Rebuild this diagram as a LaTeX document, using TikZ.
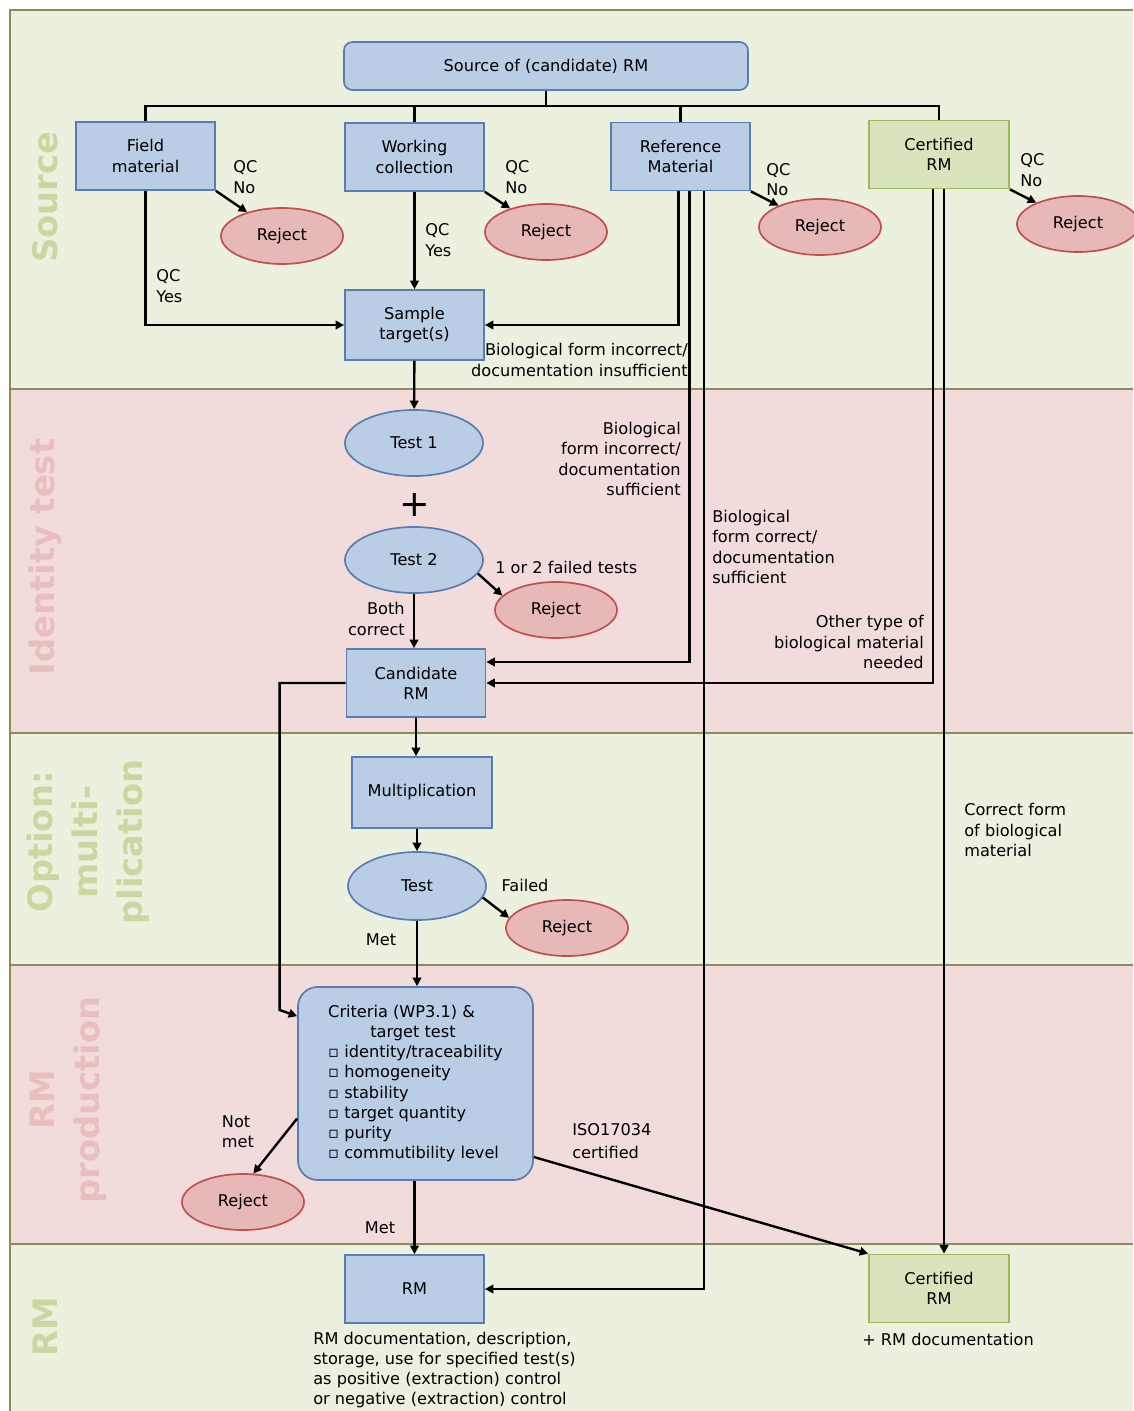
\documentclass[tikz,border=0pt]{standalone}
\usepackage{fontspec}
\setmainfont{DejaVu Sans}
\usetikzlibrary{shapes.geometric,arrows.meta}
\definecolor{bggreen}{RGB}{235,241,222}
\definecolor{bgpink}{RGB}{242,220,219}
\definecolor{bandline}{RGB}{140,140,90}
\definecolor{labgreen}{RGB}{200,216,160}
\definecolor{labpink}{RGB}{232,190,190}
\definecolor{boxblue}{RGB}{185,205,229}
\definecolor{boxline}{RGB}{90,125,175}
\definecolor{gfill}{RGB}{215,228,189}
\definecolor{gline}{RGB}{155,187,89}
\definecolor{rejfill}{RGB}{230,185,184}
\definecolor{rejline}{RGB}{192,80,77}

\begin{document}
\begin{tikzpicture}[x=0.025cm,y=-0.025cm]
\tikzstyle{every node}+=[font=\fontsize{11.5}{14.4}\selectfont]
\tikzstyle{box}=[draw=boxline,fill=boxblue,line width=1.2pt,minimum width=3.475cm,minimum height=1.7cm,align=center]
\tikzstyle{gbox}=[box,draw=gline,fill=gfill,minimum width=3.5cm]
\tikzstyle{testnode}=[ellipse,draw=boxline,fill=boxblue,line width=1.2pt,minimum width=3.45cm,minimum height=1.65cm]
\tikzstyle{reject}=[ellipse,draw=rejline,fill=rejfill,line width=1.2pt,minimum width=3.05cm,minimum height=1.4cm]
\tikzstyle{conn}=[line width=1.7pt]
\tikzstyle{arr}=[conn,-{Triangle[length=6pt,width=6pt]}]
\tikzstyle{lbl}=[inner sep=0pt,align=left]
\tikzstyle{band}=[font=\fontsize{24}{32}\selectfont\bfseries,rotate=90,align=center]
\useasboundingbox (0,0) rectangle (1133,1411);
\fill[white] (0,0) rectangle (1133,1411);
\fill[bggreen] (10,10) rectangle (1133,389);
\fill[bgpink] (10,389) rectangle (1133,733);
\fill[bggreen] (10,733) rectangle (1133,965);
\fill[bgpink] (10,965) rectangle (1133,1244);
\fill[bggreen] (10,1244) rectangle (1133,1411);
\draw[bandline,line width=1.8pt] (1133,10) -- (10,10) -- (10,1411);
\foreach \y in {389,733,965,1244}
  \draw[bandline,line width=1.8pt] (10,\y) -- (1133,\y);

\node[band,text=labgreen] (lsource) at (45,197) {Source};
\node[band,text=labpink] (lident) at (45,557) {Identity test};
\node[band,text=labgreen] (lmult) at (88,842) {Option:\\multi-\\plication};
\node[band,text=labpink] (lprod) at (68,1100) {RM\\production};
\node[band,text=labgreen] (lrm) at (45,1327) {RM};

\node[box,rounded corners=6pt,minimum width=10.1cm,minimum height=1.2cm] (src) at (546,66) {Source of (candidate) RM};
\node[box] (field) at (145.5,156) {Field\\material};
\node[box] (working) at (414.5,157) {Working\\collection};
\node[box] (refmat) at (680.5,156.5) {Reference\\Material};
\node[gbox] (certsrc) at (939,154.5) {Certified\\RM};
\node[reject] (rej1) at (282,236) {Reject};
\node[reject] (rej2) at (546,232) {Reject};
\node[reject] (rej3) at (820,227) {Reject};
\node[reject] (rej4) at (1078,224) {Reject};
\node[box,minimum height=1.75cm] (sample) at (414.5,325) {Sample\\target(s)};
\node[testnode] (test1) at (414,443) {Test 1};
\node[font=\fontsize{26}{26}\selectfont,inner sep=0pt] (plus) at (415,505) {+};
\node[testnode] (test2) at (414,560) {Test 2};
\node[reject] (rej5) at (556,610) {Reject};
\node[box] (cand) at (416,683) {Candidate\\RM};
\node[box,minimum width=3.5cm,minimum height=1.775cm] (mult) at (422,792.5) {Multiplication};
\node[testnode,minimum height=1.7cm] (test) at (417,886) {Test};
\node[reject] (rej6) at (567,928) {Reject};
\node[box,rounded corners=14pt,minimum width=5.875cm,minimum height=4.825cm,align=left] (crit) at (415.5,1083.5) {Criteria (WP3.1) \&\\\hspace*{2.6em}target test\\▫ identity/traceability\\▫ homogeneity\\▫ stability\\▫ target quantity\\▫ purity\\▫ commutibility level};
\node[reject] (rej7) at (243,1202) {Reject};
\node[box] (rm) at (414.5,1289) {RM};
\node[gbox] (certrm) at (939,1288.5) {Certified\\RM};

\node[lbl,anchor=west] (qcno1) at (233,177) {QC\\No};
\node[lbl,anchor=west] (qcno2) at (505,177) {QC\\No};
\node[lbl,anchor=west] (qcno3) at (766,179.5) {QC\\No};
\node[lbl,anchor=west] (qcno4) at (1020,170) {QC\\No};
\node[lbl,anchor=west] (qcyes1) at (156,286) {QC\\Yes};
\node[lbl,anchor=west] (qcyes2) at (425,240) {QC\\Yes};
\node[lbl,align=right,anchor=east] (bioinsuff) at (688,360) {Biological form incorrect/\\documentation insufficient};
\node[lbl,align=right,anchor=east] (bioincorr) at (681,459) {Biological\\form incorrect/\\documentation\\sufficient};
\node[lbl,anchor=west] (biocorr) at (712,547) {Biological\\form correct/\\documentation\\sufficient};
\node[lbl,align=right,anchor=east] (othertype) at (924,642) {Other type of\\biological material\\needed};
\node[lbl,anchor=west] (correctform) at (964,830) {Correct form\\of biological\\material};
\node[lbl,anchor=west] (failedtests) at (495,567) {1 or 2 failed tests};
\node[lbl,align=right,anchor=east] (bothcorr) at (405,619) {Both\\correct};
\node[lbl] (failed) at (525,885) {Failed};
\node[lbl] (met1) at (381,940) {Met};
\node[lbl] (notmet) at (238,1132) {Not\\met};
\node[lbl] (met2) at (380,1228) {Met};
\node[lbl,anchor=west,font=\fontsize{11.5}{16}\selectfont] (iso) at (572,1141) {ISO17034\\certified};
\node[lbl,anchor=west] (rmdoc) at (313,1370) {RM documentation, description,\\storage, use for specified test(s)\\as positive (extraction) control\\or negative (extraction) control};
\node[lbl] (plusdoc) at (948,1339) {+ RM documentation};

\coordinate (bus) at (546,106);
\draw[conn] (src) -- (bus);
\draw[conn] (field.north) |- (bus) -| (certsrc.north);
\draw[conn] (working.north) -- (working.north |- bus);
\draw[conn] (refmat.north) -- (refmat.north |- bus);
\draw[arr] (field.south east) -- (rej1);
\draw[arr] (working.south east) -- (rej2);
\draw[arr] (refmat.south east) -- (rej3);
\draw[arr] (certsrc.south east) -- (rej4);
\draw[arr] (field.south) |- (sample.west);
\draw[arr] (working) -- (sample);
\draw[arr] ([xshift=-0.05cm]refmat.south) |- (sample.east);
\draw[arr] ([xshift=0.225cm]refmat.south) |- ([yshift=0.525cm]cand.east);
\draw[arr] ([xshift=0.5875cm]refmat.south) |- (rm.east);
\draw[arr] ([xshift=-0.15cm]certsrc.south) |- (cand.east);
\draw[arr] ([xshift=0.125cm]certsrc.south) -- ([xshift=0.125cm]certrm.north);
\draw[arr] (sample) -- (test1);
\draw[arr] (test2.-12) -- (rej5.165);
\draw[arr] (test2.south) -- (test2.south |- cand.north);
\draw[arr] (cand.south) -- (cand.south |- mult.north);
\draw[arr] (test.north |- mult.south) -- (test.north);
\draw[arr] (test.-10) -- (rej6.170);
\draw[arr] (test.south) -- (test.south |- crit.north);
\draw[arr] (cand.west) -- ++(-66,0) -- ++(0,327) -- ([yshift=-0.75cm]crit.north west);
\draw[arr] ([yshift=-0.875cm]crit.west) -- (rej7.70);
\draw[arr] (rm.north |- crit.south) -- (rm.north);
\draw[arr] ([yshift=-1.8375cm]crit.east) -- (certrm.north west);
\end{tikzpicture}
\end{document}
